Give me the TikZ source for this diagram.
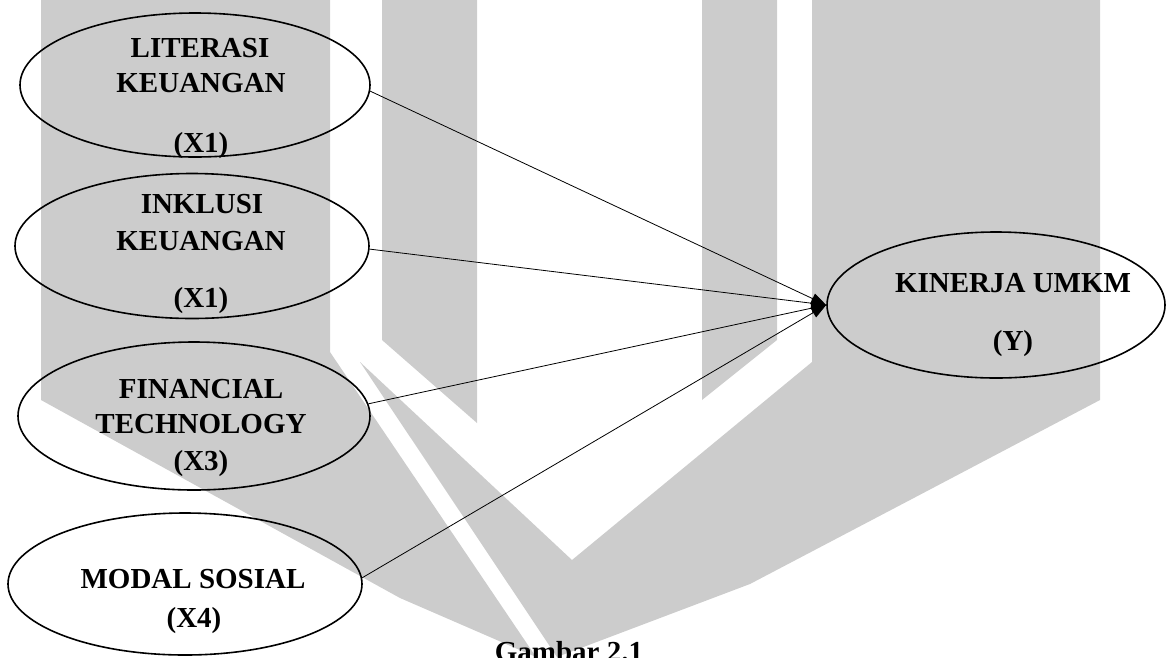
\documentclass[tikz,border=0pt]{standalone}
\usepackage{fontspec}
\setmainfont{Liberation Serif}
\usetikzlibrary{shapes.geometric,arrows.meta}
\begin{document}
\begin{tikzpicture}[x=1pt,y=-1pt,
  wm/.style={fill=black!20,draw=none},
  ell/.style={draw,ellipse,line width=1.6pt,inner sep=0pt},
  lbl/.style={anchor=base,font=\fontsize{29}{34}\selectfont\bfseries,inner sep=0pt},
  link/.style={line width=0.8pt,-{Triangle[length=15pt,width=11pt]}}]
\useasboundingbox (0,0) rectangle (1168,657);
\clip (0,0) rectangle (1168,657);
% watermark
\fill[wm] (41,0) -- (330,0) -- (330,352) -- (536,657) -- (400,598) -- (41,400) -- cycle;
\fill[wm] (382,0) -- (477,0) -- (477,423) -- (382,340) -- cycle;
\fill[wm] (702,0) -- (777,0) -- (777,340) -- (702,400) -- cycle;
\fill[wm] (812,0) -- (1100,0) -- (1100,400) -- (910,500) -- (750,584) -- (557,657)
  -- (360,362) -- (572,560) -- (812,362) -- cycle;
% ellipses
\node[ell,minimum width=350pt,minimum height=144pt] (e1) at (195,85) {};
\node[ell,minimum width=354pt,minimum height=145pt] (e2) at (192,246) {};
\node[ell,minimum width=352pt,minimum height=148pt] (e3) at (194,416) {};
\node[ell,minimum width=354pt,minimum height=142pt] (e4) at (185,584) {};
\node[ell,minimum width=338pt,minimum height=146pt] (e5) at (996,305) {};
% texts
\node[lbl] (t1a) at (200,57) {LITERASI};
\node[lbl] (t1b) at (201,92) {KEUANGAN};
\node[lbl] (t1c) at (201,152) {(X1)};
\node[lbl] (t2a) at (202,213) {INKLUSI};
\node[lbl] (t2b) at (201,250) {KEUANGAN};
\node[lbl] (t2c) at (201,307) {(X1)};
\node[lbl] (t3a) at (201,398) {FINANCIAL};
\node[lbl] (t3b) at (201,433) {TECHNOLOGY};
\node[lbl] (t3c) at (201,470) {(X3)};
\node[lbl] (t4a) at (193,588) {MODAL SOSIAL};
\node[lbl] (t4b) at (194,627) {(X4)};
\node[lbl] (t5a) at (1013,292) {KINERJA UMKM};
\node[lbl] (t5b) at (1013,350) {(Y)};
\node[lbl] (cap) at (569,661) {Gambar 2.1};
% connectors
\draw[link] (e1.-2) -- (e5.west);
\draw[link] (e2.-1) -- (e5.west);
\draw[link] (e3.4) -- (e5.west);
\draw[link] (e4.2) -- (e5.west);
\end{tikzpicture}
\end{document}
